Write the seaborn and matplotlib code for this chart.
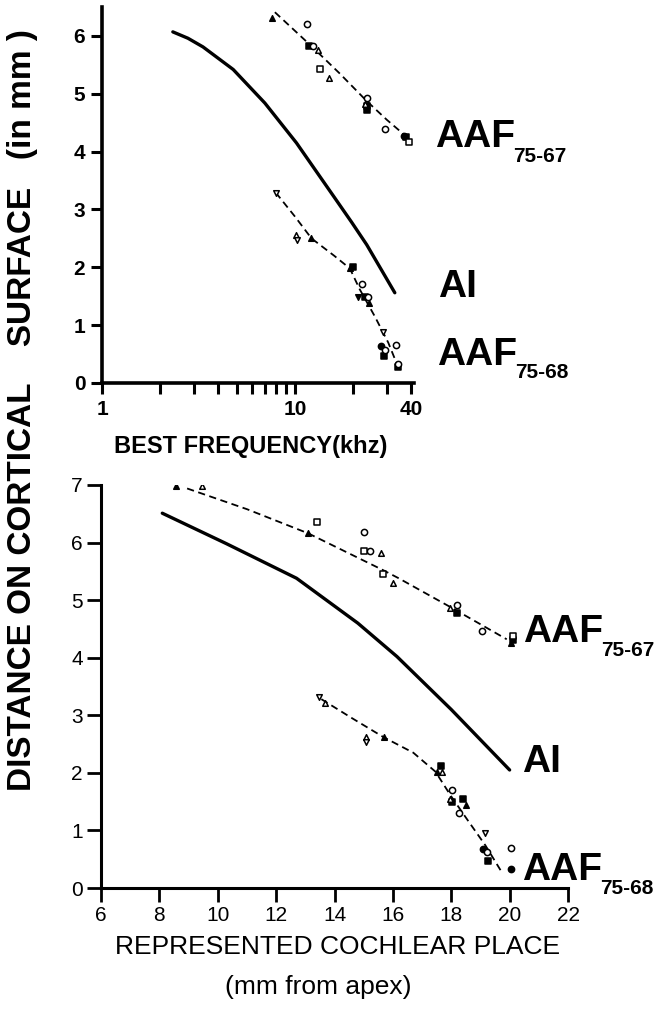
import numpy as np
import pandas as pd
import matplotlib
matplotlib.use('Agg')
import matplotlib.pyplot as plt
import seaborn as sns
from matplotlib.ticker import FixedLocator, FixedFormatter, NullFormatter

#------------------Data
# kinds: o open circle, O filled circle, s open square, S filled square,
#        t open triangle, T filled triangle, v open triangle down, V filled triangle down

# top panel: best frequency (kHz) vs distance (mm)
top_ai_f = [2.33, 2.79, 3.34, 4.79, 6.99, 10.2, 15.8, 19.7, 23.6, 33.0]
top_ai_d = [6.07, 5.96, 5.81, 5.42, 4.84, 4.15, 3.24, 2.78, 2.39, 1.56]

top_67_fit_f = [7.88, 10.0, 12.4, 17.1, 23.5, 30.0, 38.5]
top_67_fit_d = [6.41, 6.09, 5.80, 5.35, 4.88, 4.55, 4.24]
top_67_f = [7.57, 11.6, 11.9, 12.4, 13.2, 13.5, 15.0, 23.8, 23.1, 23.7, 23.7, 29.3, 36.7, 37.6, 39.1]
top_67_d = [6.31, 6.21, 5.83, 5.83, 5.76, 5.42, 5.27, 4.93, 4.83, 4.78, 4.72, 4.39, 4.27, 4.25, 4.16]
top_67_k = ['T', 'o', 'S', 'o', 't', 's', 't', 'o', 't', 'S', 'S', 'o', 'O', 'S', 's']

top_68_fit_f = [7.97, 10.0, 12.2, 16.0, 19.3, 21.7, 26.0, 30.5, 34.3]
top_68_fit_d = [3.29, 2.88, 2.50, 2.20, 1.98, 1.62, 1.15, 0.70, 0.28]
top_68_f = [7.97, 10.2, 10.3, 12.2, 20.0, 19.3, 22.2, 21.3, 23.1, 24.0, 24.3, 28.5, 28.1, 29.3, 28.9, 33.4, 34.3, 34.3]
top_68_d = [3.29, 2.56, 2.47, 2.50, 2.01, 1.99, 1.71, 1.49, 1.48, 1.48, 1.38, 0.89, 0.64, 0.57, 0.46, 0.65, 0.33, 0.28]
top_68_k = ['v', 't', 'v', 'T', 'S', 'T', 'o', 'V', 'S', 'o', 'T', 'v', 'O', 'o', 'S', 'o', 'o', 'S']

top_xticks = [1, 10, 40]
top_xlabels = ['1', '10', '40']
top_xminor = [2, 3, 4, 5, 6, 7, 8, 9, 20, 30]
top_yticks = [0, 1, 2, 3, 4, 5, 6]

# bottom panel: cochlear place (mm from apex) vs distance (mm)
bot_ai_x = [8.1, 10.3, 12.7, 13.4, 14.8, 16.14, 18.0, 20.0]
bot_ai_d = [6.51, 5.98, 5.38, 5.12, 4.60, 4.02, 3.10, 2.05]

bot_67_fit_x = [8.95, 11.0, 13.1, 15.67, 16.2, 17.97, 19.9]
bot_67_fit_d = [6.94, 6.58, 6.16, 5.52, 5.38, 4.88, 4.32]
bot_67_x = [8.57, 9.46, 13.4, 13.1, 15.0, 15.0, 15.2, 15.6, 15.67, 16.0, 17.97, 18.18, 18.18, 19.07, 20.1, 20.1, 20.05]
bot_67_d = [6.98, 6.98, 6.35, 6.16, 6.18, 5.85, 5.85, 5.82, 5.45, 5.30, 4.86, 4.91, 4.77, 4.46, 4.38, 4.30, 4.26]
bot_67_k = ['T', 't', 's', 'T', 'o', 's', 'o', 't', 's', 't', 't', 'o', 'S', 'o', 's', 'S', 'T']

bot_68_fit_x = [13.55, 14.6, 15.68, 16.7, 17.46, 18.0, 18.56, 19.17, 19.7]
bot_68_fit_d = [3.28, 2.95, 2.62, 2.35, 2.02, 1.59, 1.18, 0.74, 0.30]
bot_68_x = [13.48, 13.66, 15.07, 15.07, 15.68, 17.64, 17.5, 17.7, 18.03, 17.95, 18.03, 18.4, 18.5, 18.25, 19.17, 19.1, 19.23, 19.27, 20.03, 20.03]
bot_68_d = [3.32, 3.22, 2.62, 2.54, 2.62, 2.12, 2.01, 2.01, 1.70, 1.55, 1.50, 1.55, 1.44, 1.31, 0.95, 0.68, 0.62, 0.47, 0.70, 0.33]
bot_68_k = ['v', 't', 't', 'v', 'T', 'S', 'T', 't', 'o', 't', 'S', 'S', 'T', 'o', 'v', 'O', 'o', 'S', 'o', 'O']

bot_xticks = [6, 8, 10, 12, 14, 16, 18, 20, 22]
bot_yticks = [0, 1, 2, 3, 4, 5, 6, 7]

#------------------Style
sns.set_theme(style='ticks')
plt.rcParams['font.family'] = ['Liberation Sans', 'DejaVu Sans']

KINDS = {'o': ('o', False), 'O': ('o', True), 's': ('s', False), 'S': ('s', True),
         't': ('^', False), 'T': ('^', True), 'v': ('v', False), 'V': ('v', True)}


def draw_points(ax, xs, ys, kinds, size):
    df = pd.DataFrame({'x': xs, 'y': ys, 'kind': kinds})
    for k, sub in df.groupby('kind'):
        m, filled = KINDS[k]
        s = size if m in ('o', 's') else size * 0.8
        sns.scatterplot(data=sub, x='x', y='y', marker=m, s=s,
                        facecolor='black' if filled else 'white',
                        edgecolor='black', linewidth=1.1, ax=ax, zorder=3, legend=False)


def draw_line(ax, xs, ys, dashed=False):
    if dashed:
        sns.lineplot(x=xs, y=ys, sort=False, estimator=None, color='black',
                     linewidth=1.3, linestyle=(0, (4, 2.5)), ax=ax)
    else:
        sns.lineplot(x=xs, y=ys, sort=False, estimator=None, color='black',
                     linewidth=2.4, ax=ax)


W, H = 670, 1010
fig = plt.figure(figsize=(W / 100, H / 100), dpi=100)
ax1 = fig.add_axes([102 / W, 1 - 383 / H, 312 / W, 376 / H])
ax2 = fig.add_axes([101 / W, 1 - 888 / H, 467 / W, 403 / H])

#------------------Top panel
ax1.set_xscale('log')
draw_line(ax1, top_ai_f, top_ai_d)
draw_line(ax1, top_67_fit_f, top_67_fit_d, dashed=True)
draw_line(ax1, top_68_fit_f, top_68_fit_d, dashed=True)
draw_points(ax1, top_67_f, top_67_d, top_67_k, 20)
draw_points(ax1, top_68_f, top_68_d, top_68_k, 20)
ax1.set_xlim(1, 41.5)
ax1.set_ylim(0, 6.5)
ax1.xaxis.set_major_locator(FixedLocator(top_xticks))
ax1.xaxis.set_major_formatter(FixedFormatter(top_xlabels))
ax1.xaxis.set_minor_locator(FixedLocator(top_xminor))
ax1.xaxis.set_minor_formatter(NullFormatter())
ax1.set_yticks(top_yticks)
ax1.tick_params(axis='both', which='both', direction='out', length=8, width=2.2,
                labelsize=15, pad=4, colors='black')
for lab in ax1.get_xticklabels() + ax1.get_yticklabels():
    lab.set_fontweight('bold')
ax1.set_xlabel('')
ax1.set_ylabel('')
sns.despine(ax=ax1)
for sp in ('left', 'bottom'):
    ax1.spines[sp].set_linewidth(2.6)
    ax1.spines[sp].set_color('black')

#------------------Bottom panel
draw_line(ax2, bot_ai_x, bot_ai_d)
draw_line(ax2, bot_67_fit_x, bot_67_fit_d, dashed=True)
draw_line(ax2, bot_68_fit_x, bot_68_fit_d, dashed=True)
draw_points(ax2, bot_67_x, bot_67_d, bot_67_k, 20)
draw_points(ax2, bot_68_x, bot_68_d, bot_68_k, 20)
ax2.set_xlim(6, 22)
ax2.set_ylim(0, 7)
ax2.set_xticks(bot_xticks)
ax2.set_yticks(bot_yticks)
ax2.tick_params(axis='both', which='both', direction='out', length=10, width=2.0,
                labelsize=15, pad=3, colors='black')
ax2.set_xlabel('')
ax2.set_ylabel('')
sns.despine(ax=ax2)
for sp in ('left', 'bottom'):
    ax2.spines[sp].set_linewidth(2.2)
    ax2.spines[sp].set_color('black')

#------------------Text
def ftext(px, py, s, **kw):
    fig.text(px / W, 1 - py / H, s, color='black', **kw)


ftext(23, 410, 'DISTANCE ON CORTICAL    SURFACE   (in mm )', rotation=90,
      ha='center', va='center', fontsize=24, fontweight='bold')
ftext(251, 447, 'BEST FREQUENCY(khz)', ha='center', va='center',
      fontsize=17, fontweight='bold')
ftext(338, 947, 'REPRESENTED COCHLEAR PLACE', ha='center', va='center', fontsize=19)
ftext(318, 987, '(mm from apex)', ha='center', va='center', fontsize=19)

labels = [
    (435, 137, 'AAF', 513, 157, '75-67'),
    (438, 287, 'AI', None, None, None),
    (437, 355, 'AAF', 515, 373, '75-68'),
    (523, 632, 'AAF', 601, 651, '75-67'),
    (522, 762, 'AI', None, None, None),
    (522, 870, 'AAF', 600, 889, '75-68'),
]
for x0, y0, main, x1, y1, sub in labels:
    ftext(x0, y0, main, ha='left', va='center', fontsize=28, fontweight='bold')
    if sub:
        ftext(x1, y1, sub, ha='left', va='center', fontsize=15, fontweight='bold')

fig.savefig('out.png', dpi=100, facecolor='white')
